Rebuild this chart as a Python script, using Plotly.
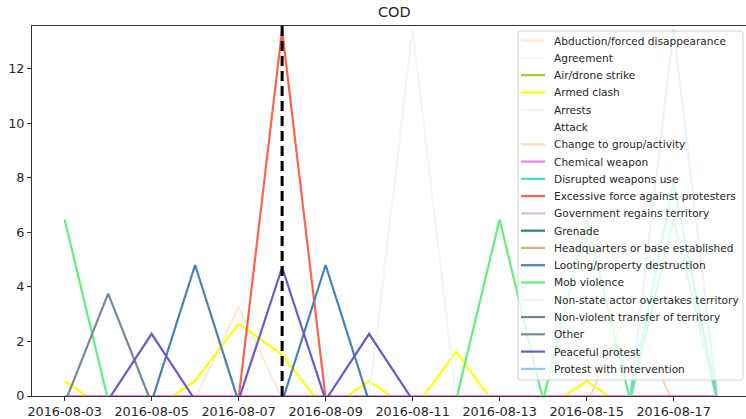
import plotly.graph_objects as go

# Daily z-scored event counts, Democratic Republic of the Congo
dates = ["2016-08-03", "2016-08-04", "2016-08-05", "2016-08-06", "2016-08-07", "2016-08-08",
         "2016-08-09", "2016-08-10", "2016-08-11", "2016-08-12", "2016-08-13", "2016-08-14",
         "2016-08-15", "2016-08-16", "2016-08-17", "2016-08-18"]

event_types = [
    "Abduction/forced disappearance", "Agreement", "Air/drone strike", "Armed clash", "Arrests",
    "Attack", "Change to group/activity", "Chemical weapon", "Disrupted weapons use",
    "Excessive force against protesters", "Government regains territory", "Grenade",
    "Headquarters or base established", "Looting/property destruction", "Mob violence",
    "Non-state actor overtakes territory", "Non-violent transfer of territory", "Other",
    "Peaceful protest", "Protest with intervention",
]

colors = ["#FAEBD7", "#F0F8FF", "#9ACD32", "#FFFF00", "#F5F5F5",
          "#FFFFFF", "#F5DEB3", "#EE82EE", "#40E0D0",
          "#FF6347", "#D8BFD8", "#2F7F7F",
          "#D2B48C", "#4682B4", "#5FF07A",
          "#FFF0F5", "#708090", "#778899",
          "#6A5ACD", "#87CEEB"]

abduction = [-0.1, -0.1, -0.1, -0.1, 3.27, -0.1, -0.1, -0.1, -0.1, -0.1, -0.1, -0.1, -0.1, -0.1, -0.1, -0.1]
agreement = [-0.05] * 16
air_drone_strike = [-0.05] * 16
armed_clash = [0.55, -0.55, -0.55, 0.55, 2.65, 1.52, -0.55, 0.55, -0.55, 1.62, -0.55, -0.55, 0.55, -0.55, -0.55, -0.55]
arrests = [-0.075, -0.075, -0.075, -0.075, -0.075, -0.075, -0.075, -0.075, 13.42, -0.075, -0.075, -0.075, -0.075, -0.075, -0.075, -0.075]
attack = [-0.05] * 16
change_to_group = [-0.3, -0.3, -0.3, -0.3, -0.3, -0.3, -0.3, -0.3, -0.3, -0.3, -0.3, -0.3, -0.3, 3.3, -0.3, -0.3]
chemical_weapon = [0.0] * 16
disrupted_weapons = [-0.13, -0.13, -0.13, -0.13, -0.13, -0.13, -0.13, -0.13, -0.13, -0.13, -0.13, -0.13, -0.13, -0.13, 7.8, -0.13]
excessive_force = [-0.075, -0.075, -0.075, -0.075, -0.075, 13.42, -0.075, -0.075, -0.075, -0.075, -0.075, -0.075, -0.075, -0.075, -0.075, -0.075]
gov_regains = [-0.05] * 16
grenade = [-0.05] * 16
headquarters = [-0.05] * 16
looting = [-0.21, -0.21, -0.21, 4.8, -0.21, -0.21, 4.8, -0.21, -0.21, -0.21, -0.21, -0.21, -0.21, -0.21, -0.21, -0.21]
mob_violence = [6.47, -0.155, -0.155, -0.155, -0.155, -0.155, -0.155, -0.155, -0.155, -0.155, 6.47, -0.155, 6.47, -0.155, 6.47, -0.155]
non_state_overtakes = [-0.05] * 16
non_violent_transfer = [-0.05] * 16
other = [-0.27, 3.75, -0.27, -0.27, -0.27, -0.27, -0.27, -0.27, -0.27, -0.27, -0.27, -0.27, -0.27, -0.27, -0.27, -0.27]
peaceful_protest = [-0.15, -0.15, 2.28, -0.15, -0.15, 4.71, -0.15, 2.28, -0.15, -0.15, -0.15, -0.15, -0.15, -0.15, -0.15, -0.15]
protest_intervention = [-0.075, -0.075, -0.075, -0.075, -0.075, -0.075, -0.075, -0.075, -0.075, -0.075, -0.075, -0.075, -0.075, -0.075, 13.42, -0.075]

series = [abduction, agreement, air_drone_strike, armed_clash, arrests, attack, change_to_group,
          chemical_weapon, disrupted_weapons, excessive_force, gov_regains, grenade, headquarters,
          looting, mob_violence, non_state_overtakes, non_violent_transfer, other,
          peaceful_protest, protest_intervention]

marker_date = "2016-08-08"
x_ticks = ["2016-08-03", "2016-08-05", "2016-08-07", "2016-08-09", "2016-08-11",
           "2016-08-13", "2016-08-15", "2016-08-17"]
y_ticks = [0, 2, 4, 6, 8, 10, 12]

FONT = "DejaVu Sans"
W, H = 746, 419
L, R, T, B = 32, 0, 26, 21
PW, PH = W - L - R, H - T - B


def px(xp):
    return (xp - L) / PW


def py(yp):
    return (H - B - yp) / PH


fig = go.Figure()

for name, vals, col in zip(event_types, series, colors):
    fig.add_trace(go.Scatter(
        x=dates, y=vals, mode="lines", name=name,
        line=dict(color=col, width=2.2), showlegend=False,
    ))

shapes = [
    dict(type="line", xref="x", yref="paper", x0=marker_date, x1=marker_date, y0=0, y1=1,
         line=dict(color="black", width=3, dash="10px,5px"), layer="above"),
]

# legend panel
bx0, bx1, by0, by1, rr = 518, 743, 31, 382, 3
path = (f"M {px(bx0 + rr)} {py(by0)} L {px(bx1 - rr)} {py(by0)} "
        f"Q {px(bx1)} {py(by0)} {px(bx1)} {py(by0 + rr)} L {px(bx1)} {py(by1 - rr)} "
        f"Q {px(bx1)} {py(by1)} {px(bx1 - rr)} {py(by1)} L {px(bx0 + rr)} {py(by1)} "
        f"Q {px(bx0)} {py(by1)} {px(bx0)} {py(by1 - rr)} L {px(bx0)} {py(by0 + rr)} "
        f"Q {px(bx0)} {py(by0)} {px(bx0 + rr)} {py(by0)} Z")
shapes.append(dict(type="path", xref="paper", yref="paper", path=path,
                   fillcolor="rgba(255,255,255,0.8)", line=dict(color="#d0d0d0", width=1),
                   layer="above"))

annotations = []
row0, step = 40.7, 17.37
for i, (name, col) in enumerate(zip(event_types, colors)):
    yy = row0 + i * step
    shapes.append(dict(type="line", xref="paper", yref="paper",
                       x0=px(521), x1=px(545), y0=py(yy), y1=py(yy),
                       line=dict(color=col, width=2.2), layer="above"))
    annotations.append(dict(xref="paper", yref="paper", x=px(552), y=py(yy),
                            text=name, showarrow=False, xanchor="left", yanchor="middle",
                            font=dict(family=FONT, size=10.6, color="#262626")))

annotations.append(dict(xref="paper", yref="paper", x=px(394), y=py(12), text="COD",
                        showarrow=False, xanchor="center", yanchor="middle",
                        font=dict(family=FONT, size=14.5, color="#262626")))

fig.update_layout(
    width=W, height=H,
    margin=dict(l=L, r=R, t=T, b=B, pad=0),
    paper_bgcolor="white", plot_bgcolor="white",
    font=dict(family=FONT, size=12.8, color="#262626"),
    shapes=shapes, annotations=annotations,
    xaxis=dict(type="date", range=["2016-08-02 06:00", "2016-08-18 15:56"],
               tickvals=x_ticks, ticktext=x_ticks, ticks="outside", ticklen=4,
               tickwidth=1, tickcolor="#333", showline=True, linecolor="#333",
               linewidth=1, mirror=True, showgrid=False, zeroline=False),
    yaxis=dict(range=[0, 13.56], tickvals=y_ticks, ticks="outside", ticklen=4,
               tickwidth=1, tickcolor="#333", showline=True, linecolor="#333",
               linewidth=1, showgrid=False, zeroline=False),
)

fig.write_html("out.html")
